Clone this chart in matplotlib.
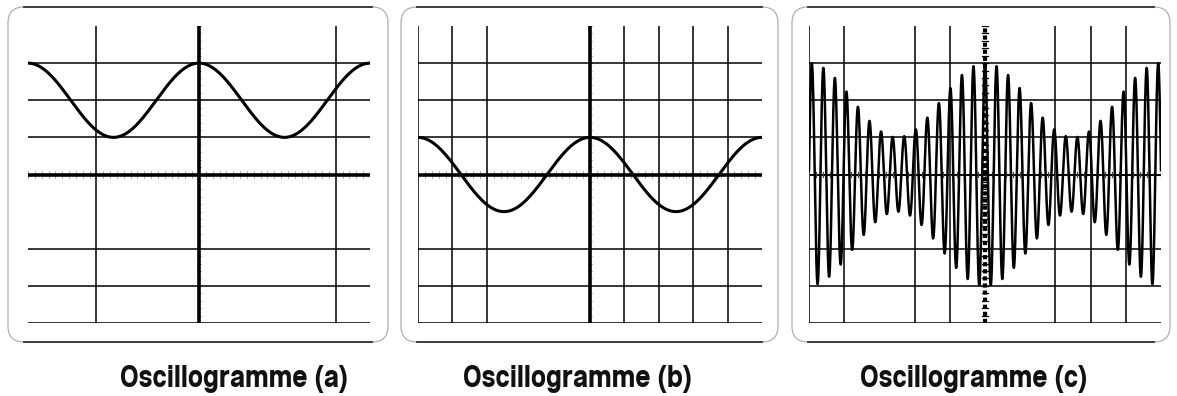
import numpy as np
import matplotlib
matplotlib.use("Agg")
import matplotlib.pyplot as plt
from matplotlib.patches import FancyBboxPatch
from matplotlib.textpath import TextPath
from matplotlib import font_manager

# --- screen layout (divisions) -------------------------------------------
x_div = 10
y_top, y_bot = 4, -4
h_lines = [3, 2, 1, -2, -3, -4]                 # thin horizontal graticule
v_lines_a = [2, 9]                               # thin vertical graticule per screen
v_lines_b = [0, 1, 2, 6, 7, 8, 9]
v_lines_c = [0, 1, 3, 4, 7, 8, 9]

# --- signals ---------------------------------------------------------------
# (a) offset sine: DC offset, amplitude, period (div)
sig_a = dict(offset=2.0, amp=1.0, period=5.0, peak_at=0.0)
# (b) pure sine
sig_b = dict(offset=0.0, amp=1.0, period=5.0, peak_at=0.0)
# (c) amplitude-modulated carrier
sig_c = dict(mean_amp=2.0, mod_amp=1.0, mod_period=5.0,
             carrier_period=0.328, peak_at=5.0)

titles = ["Oscillogramme (a)", "Oscillogramme (b)", "Oscillogramme (c)"]

W, H = 1177, 396
DPI = 100
fig = plt.figure(figsize=(W / DPI, H / DPI), dpi=DPI)

# caption face: a bold sans whose proportions are closest to a condensed bold
cap_w_px, cap_h_px = 226.0, 22.0
target = cap_h_px / cap_w_px

def pick_face(exclude):
    best = None
    for f in font_manager.fontManager.ttflist:
        fn = f.fname.lower()
        if not fn.endswith((".ttf", ".otf")) or "bold" not in fn:
            continue
        if any(k in fn for k in exclude):
            continue
        try:
            fp = font_manager.FontProperties(fname=f.fname, size=10)
            w = TextPath((0, 0), titles[0], prop=fp).get_extents().width
            h = TextPath((0, 0), "O", prop=fp).get_extents().height
        except Exception:
            continue
        if w <= 0 or h <= 0:
            continue
        score = abs(h / w - target)
        if best is None or score < best[0]:
            best = (score, f.fname, w, h)
    return best

common = ("italic", "oblique", "mono", "serif", "cjk", "math")
best = pick_face(common + ("black", "heavy", "extrabold", "ultrabold", "semibold",
                           "light", "thin"))
if best is None:
    best = pick_face(common)

if best is not None:
    _, fname, w10, h10 = best
    px_per_pt = DPI / 72.0
    size_w = 10 * cap_w_px / (w10 * px_per_pt)
    size_h = 10 * cap_h_px / (h10 * px_per_pt)
    label_props = font_manager.FontProperties(fname=fname, size=min(size_w, size_h))
else:
    label_props = font_manager.FontProperties(family="DejaVu Sans", weight="bold", size=17)

# frames (pixel space overlay)
bg = fig.add_axes([0, 0, 1, 1])
bg.set_xlim(0, W)
bg.set_ylim(H, 0)
bg.axis("off")
frames = [(8, 388), (401, 778), (792, 1170)]
for x0, x1 in frames:
    bg.add_patch(FancyBboxPatch((x0, 7), x1 - x0, 335,
                                boxstyle="round,pad=0,rounding_size=16",
                                fc="none", ec="#b0b0b0", lw=0.9))
    bg.plot([x0 + 16, x1 - 16], [7, 7], color="#333333", lw=1.3)
    bg.plot([x0 + 16, x1 - 16], [342, 342], color="#333333", lw=1.3)

# graticule areas in pixels: (left, right)
areas = [(28, 370), (418, 762), (809, 1161)]
gy0, gy1 = 26, 323

def make_ax(left, right):
    ax = fig.add_axes([left / W, (H - gy1) / H, (right - left) / W, (gy1 - gy0) / H])
    ax.set_xlim(0, x_div)
    ax.set_ylim(y_bot, y_top)
    ax.axis("off")
    return ax

def graticule(ax, vlines, dotted_center=False):
    for y in h_lines:
        ax.plot([0, x_div], [y, y], color="black", lw=1.1, solid_capstyle="butt")
    for x in vlines:
        ax.plot([x, x], [y_bot, y_top], color="black", lw=1.1, solid_capstyle="butt")
    minor = np.arange(0, x_div + 1e-9, 0.2)
    minor_y = np.arange(y_bot, y_top + 1e-9, 0.2)
    if not dotted_center:
        for m in minor:
            ax.plot([m, m], [-0.1, 0.1], color="#8a8a8a", lw=0.5, zorder=1)
        for m in minor_y:
            ax.plot([4.94, 5.06], [m, m], color="#8a8a8a", lw=0.5, zorder=1)
        ax.plot([0, x_div], [0, 0], color="black", lw=2.6, solid_capstyle="butt", zorder=2)
        ax.plot([5, 5], [y_bot, y_top], color="black", lw=2.6, solid_capstyle="butt", zorder=2)
    else:
        ax.plot([0, x_div], [0, 0], color="black", lw=1.4, solid_capstyle="butt")
        for m in minor:
            ax.plot([m, m], [-0.07, 0.07], color="#444444", lw=0.9)
        for m in minor_y:
            ax.plot([4.92, 5.08], [m, m], color="black", lw=0.9)
        ax.plot([5, 5], [y_bot, y_top], color="black", lw=3.0,
                linestyle=(0, (1.0, 0.7)), solid_capstyle="butt")

x = np.linspace(0, x_div, 4000)

ax_a = make_ax(*areas[0])
graticule(ax_a, v_lines_a)
ya = sig_a["offset"] + sig_a["amp"] * np.cos(2 * np.pi * (x - sig_a["peak_at"]) / sig_a["period"])
ax_a.plot(x, ya, color="black", lw=2.2, zorder=3)

ax_b = make_ax(*areas[1])
graticule(ax_b, v_lines_b)
yb = sig_b["offset"] + sig_b["amp"] * np.cos(2 * np.pi * (x - sig_b["peak_at"]) / sig_b["period"])
ax_b.plot(x, yb, color="black", lw=2.2, zorder=3)

ax_c = make_ax(*areas[2])
graticule(ax_c, v_lines_c, dotted_center=True)
t = x - sig_c["peak_at"]
env = sig_c["mean_amp"] + sig_c["mod_amp"] * np.cos(2 * np.pi * t / sig_c["mod_period"])
yc = env * np.cos(2 * np.pi * t / sig_c["carrier_period"])
ax_c.plot(x, yc, color="black", lw=1.8, zorder=3)

label_x = [235, 578, 975]
for lx, txt in zip(label_x, titles):
    fig.text(lx / W, (H - 387) / H, txt, ha="center", va="baseline",
             fontproperties=label_props, color="#111111")

fig.savefig("out.png", dpi=DPI, facecolor="white")
